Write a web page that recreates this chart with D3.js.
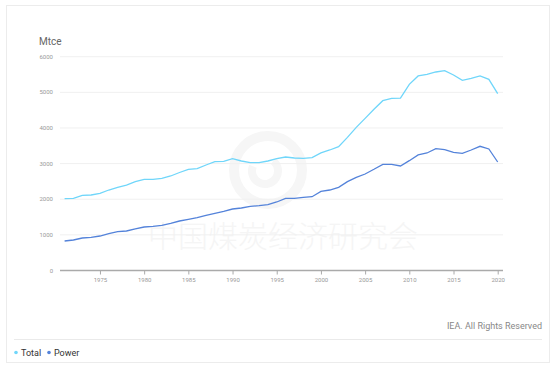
<!DOCTYPE html>
<html>
<head>
<meta charset="utf-8">
<script src="https://cdn.jsdelivr.net/npm/d3@7"></script>
<style>
  body { margin: 0; background: #fff; font-family: Roboto, "Liberation Sans", sans-serif; }
</style>
</head>
<body>
<svg id="chart" width="558" height="374"></svg>
<script>
// coal demand, Mtce
const years = d3.range(1971, 2021);
const total = [
  2016, 2026, 2110, 2119, 2166, 2259, 2334, 2399, 2493, 2559,
  2559, 2587, 2652, 2750, 2840, 2857, 2961, 3054, 3064, 3138,
  3073, 3026, 3026, 3073, 3138, 3185, 3157, 3148, 3170, 3300,
  3382, 3475, 3737, 4018, 4270, 4524, 4766, 4832, 4840, 5225,
  5459, 5506, 5571, 5608, 5487, 5338, 5394, 5459, 5366, 4962
];
const power = [
  828, 856, 912, 931, 968, 1033, 1089, 1109, 1165, 1221,
  1240, 1268, 1324, 1389, 1436, 1482, 1548, 1605, 1661, 1726,
  1754, 1801, 1820, 1848, 1923, 2026, 2026, 2054, 2071, 2220,
  2259, 2334, 2493, 2615, 2708, 2840, 2980, 2980, 2933, 3082,
  3242, 3298, 3419, 3391, 3317, 3289, 3382, 3486, 3410, 3045
];
const yTicks = [0, 1000, 2000, 3000, 4000, 5000, 6000];
const xTicks = [1975, 1980, 1985, 1990, 1995, 2000, 2005, 2010, 2015, 2020];
const seriesNames = ["Total", "Power"];
const colors = ["#70d6fa", "#5483da"];

const svg = d3.select("#chart");

// card frame
svg.append("rect")
    .attr("x", 6.5).attr("y", 5.5)
    .attr("width", 543).attr("height", 357)
    .attr("fill", "#fff")
    .attr("stroke", "#ececec");

const x = d3.scaleLinear().domain([1971, 2020]).range([64.6, 497.7]);
const y = d3.scaleLinear().domain([0, 6000]).range([270.5, 56.7]);

// watermark
const wm = svg.append("g").attr("fill", "none").attr("stroke", "#f6f6f6");
wm.append("circle").attr("cx", 268).attr("cy", 170).attr("r", 34).attr("stroke-width", 10);
wm.append("path")
    .attr("d", d3.arc()({innerRadius: 9, outerRadius: 17, startAngle: 0.7, endAngle: 2 * Math.PI - 1.2}))
    .attr("transform", "translate(265,171)")
    .attr("fill", "#f6f6f6").attr("stroke", "none");
svg.append("text")
    .attr("x", 283).attr("y", 247)
    .attr("text-anchor", "middle")
    .attr("font-family", "'Noto Sans CJK SC', sans-serif")
    .attr("font-weight", 300)
    .attr("font-size", 30)
    .attr("fill", "#f5f5f5")
    .text("中国煤炭经济研究会");

// gridlines
svg.append("g").selectAll("line")
    .data(yTicks.slice(1))
    .enter().append("line")
    .attr("x1", 60).attr("x2", 503)
    .attr("y1", d => y(d)).attr("y2", d => y(d))
    .attr("stroke", "#f0f0f0");

// y axis labels
svg.append("g").selectAll("text")
    .data(yTicks)
    .enter().append("text")
    .attr("x", 53).attr("y", d => y(d) + 2)
    .attr("text-anchor", "end")
    .attr("font-size", 6)
    .attr("fill", "#999")
    .text(d => d);

svg.append("text")
    .attr("x", 39).attr("y", 45)
    .attr("font-size", 10)
    .attr("fill", "#666")
    .text("Mtce");

// x axis
const xAxis = svg.append("g")
    .attr("transform", "translate(0," + y(0) + ")")
    .call(d3.axisBottom(x).tickValues(xTicks).tickFormat(d3.format("d")).tickSize(4).tickPadding(3));
xAxis.select(".domain").attr("d", "M60,0H503").attr("stroke", "#aaa").attr("stroke-width", 1.5);
xAxis.selectAll(".tick line").attr("stroke", "#aaa");
xAxis.selectAll(".tick text").attr("font-size", 6).attr("fill", "#999").attr("font-family", "Roboto, sans-serif");

// lines
const line = d3.line().x((d, i) => x(years[i])).y(d => y(d));
[total, power].forEach(function(s, i) {
  svg.append("path")
      .datum(s)
      .attr("d", line)
      .attr("fill", "none")
      .attr("stroke", colors[i])
      .attr("stroke-width", 1.3);
});

// source
svg.append("text")
    .attr("x", 542).attr("y", 329)
    .attr("text-anchor", "end")
    .attr("font-size", 9)
    .attr("fill", "#888")
    .text("IEA. All Rights Reserved");

svg.append("line")
    .attr("x1", 14).attr("x2", 542)
    .attr("y1", 339.5).attr("y2", 339.5)
    .attr("stroke", "#eaeaea");

// legend
const legX = [16, 49];
const leg = svg.append("g").selectAll("g")
    .data(seriesNames)
    .enter().append("g");
leg.append("circle")
    .attr("cx", (d, i) => legX[i]).attr("cy", 352.5)
    .attr("r", 1.8)
    .attr("fill", (d, i) => colors[i]);
leg.append("text")
    .attr("x", (d, i) => legX[i] + 5).attr("y", 356)
    .attr("font-size", 9)
    .attr("fill", "#333")
    .text(d => d);
</script>
</body>
</html>
